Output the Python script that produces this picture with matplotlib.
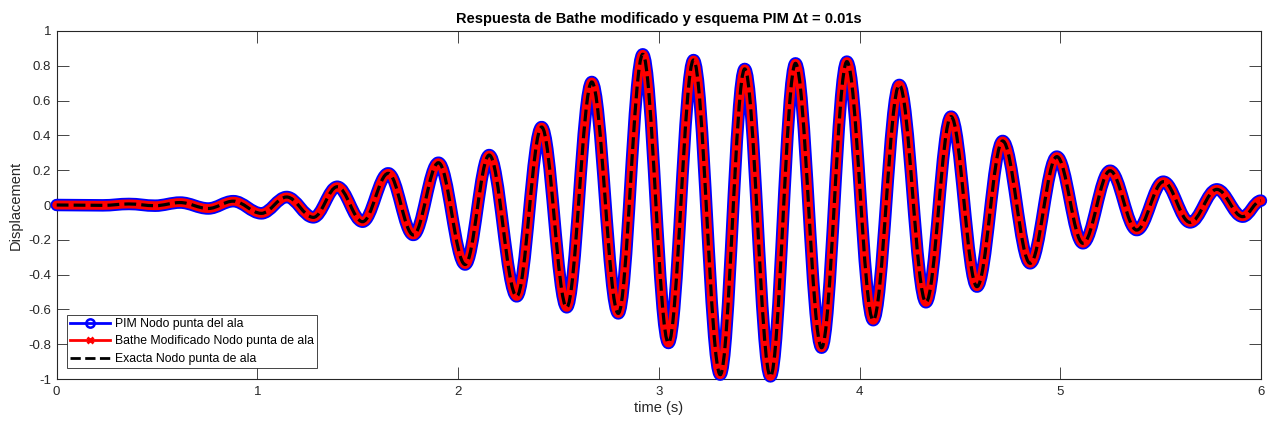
import numpy as np
import matplotlib.pyplot as plt
from matplotlib.path import Path
from matplotlib.patches import PathPatch
from matplotlib.lines import Line2D

plt.rcParams['font.family'] = ['Liberation Sans', 'DejaVu Sans']
plt.rcParams['axes.unicode_minus'] = False

# turning points of the tip displacement (time in s)
t_ext = [0.00, 0.23, 0.36, 0.49, 0.615, 0.755, 0.88, 1.02, 1.146, 1.279,
         1.398, 1.524, 1.652, 1.777, 1.902, 2.035, 2.155, 2.292, 2.416, 2.541,
         2.666, 2.798, 2.920, 3.048, 3.173, 3.306, 3.428, 3.556, 3.681, 3.811,
         3.937, 4.068, 4.198, 4.331, 4.456, 4.585, 4.713, 4.850, 4.983, 5.113,
         5.248, 5.381, 5.514, 5.647, 5.780, 5.909, 6.000]
pim_ext = [0.0, -0.002, 0.006, -0.004, 0.014, -0.020, 0.022, -0.048, 0.046, -0.071,
           0.105, -0.096, 0.182, -0.172, 0.243, -0.342, 0.287, -0.525, 0.448, -0.588,
           0.707, -0.623, 0.866, -0.793, 0.833, -0.975, 0.782, -0.985, 0.814, -0.820,
           0.824, -0.662, 0.690, -0.559, 0.508, -0.469, 0.368, -0.335, 0.278, -0.220,
           0.197, -0.144, 0.134, -0.100, 0.090, -0.067, 0.025]
# the three solutions lie on top of each other at this scale
bathe_ext = list(pim_ext)
exact_ext = list(pim_ext)

labels = ['PIM Nodo punta del ala',
          'Bathe Modificado Nodo punta de ala',
          'Exacta Nodo punta de ala']
yticks = [-1, -0.8, -0.6, -0.4, -0.2, 0, 0.2, 0.4, 0.6, 0.8, 1]
xticks = [0, 1, 2, 3, 4, 5, 6]


def smooth_path(t, u):
    # cubic bezier between turning points, flat tangents at each one
    verts = [(t[0], u[0])]
    codes = [Path.MOVETO]
    for i in range(1, len(t)):
        k = 0.3634 * (t[i] - t[i-1])
        verts += [(t[i-1] + k, u[i-1]), (t[i] - k, u[i]), (t[i], u[i])]
        codes += [Path.CURVE4] * 3
    return Path(verts, codes)


fig = plt.figure(figsize=(12.71, 4.24), dpi=100)
ax = fig.add_axes([0.0446, 0.1061, 0.9475, 0.8208])

ax.add_patch(PathPatch(smooth_path(t_ext, pim_ext), fill=False, edgecolor='#0000ff',
                       lw=9.0, capstyle='round', joinstyle='round', clip_on=False, zorder=3))
ax.add_patch(PathPatch(smooth_path(t_ext, bathe_ext), fill=False, edgecolor='#ff0000',
                       lw=6.4, capstyle='round', joinstyle='round', clip_on=False, zorder=4))
ax.add_patch(PathPatch(smooth_path(t_ext, exact_ext), fill=False, edgecolor='black',
                       lw=2.3, linestyle='--', clip_on=False, zorder=5))

ax.set_xlim(0, 6)
ax.set_ylim(-1, 1)
ax.set_xticks(xticks)
ax.set_yticks(yticks)
ax.set_yticklabels(['%g' % v for v in yticks])

c = '#262626'
for s in ax.spines.values():
    s.set_color(c)
    s.set_linewidth(0.8)
ax.tick_params(direction='in', length=8.6, width=0.6, color=c, labelcolor=c,
               labelsize=9.5, top=True, right=True)
ax.tick_params(axis='x', pad=5)
ax.tick_params(axis='y', pad=4)

ax.set_xlabel('time (s)', fontsize=10.5, color=c, labelpad=2)
ax.set_ylabel('Displacement', fontsize=10.5, color=c, labelpad=4)
ax.set_title('Respuesta de Bathe modificado y esquema PIM \u0394t = 0.01s',
             fontsize=10.5, fontweight='bold', pad=6)

handles = [
    Line2D([], [], color='#0000ff', lw=2, marker='o', markersize=6,
           markerfacecolor='none', markeredgewidth=1.8),
    Line2D([], [], color='#ff0000', lw=2, marker='x', markersize=5,
           markeredgewidth=2),
    Line2D([], [], color='black', lw=2, linestyle='--'),
]
leg = ax.legend(handles, labels, loc='lower left', bbox_to_anchor=(0.0086, 0.0316),
                borderaxespad=0, fontsize=8.8, fancybox=False, framealpha=1,
                edgecolor=c, handlelength=3.3, handletextpad=0.4,
                labelspacing=0.45, borderpad=0.25)
leg.get_frame().set_linewidth(0.6)
leg.set_zorder(10)

fig.savefig('out.png', dpi=100)
